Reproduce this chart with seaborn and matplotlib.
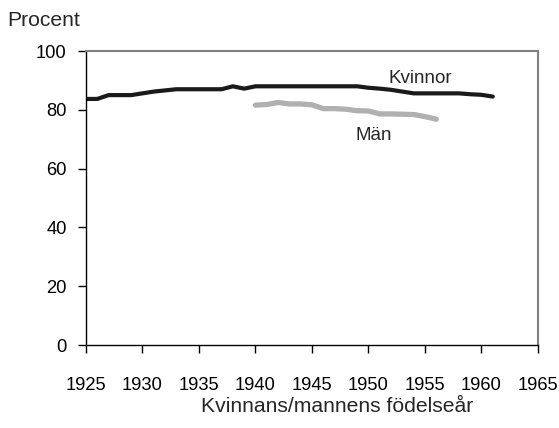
import numpy as np
import pandas as pd
import matplotlib
matplotlib.use("Agg")
import matplotlib.pyplot as plt
import seaborn as sns

sns.set_style("ticks")
plt.rcParams['font.family'] = ['Liberation Sans', 'DejaVu Sans']

# Data
kvinnor_years = list(range(1925, 1962))
kvinnor_values = [83.7, 83.7, 85.0, 85.0, 85.0, 85.6, 86.2, 86.6, 87.0, 87.0,
                  87.0, 87.0, 87.0, 88.0, 87.2, 88.0, 88.0, 88.0, 88.0, 88.0,
                  88.0, 88.0, 88.0, 88.0, 88.0, 87.5, 87.2, 86.8, 86.2, 85.6,
                  85.6, 85.6, 85.6, 85.6, 85.3, 85.1, 84.5]
man_years = list(range(1940, 1957))
man_values = [81.6, 81.8, 82.5, 82.0, 82.0, 81.7, 80.4, 80.4, 80.2, 79.7,
              79.6, 78.6, 78.6, 78.5, 78.4, 77.7, 76.8]
x_ticks = list(range(1925, 1966, 5))
y_ticks = [0, 20, 40, 60, 80, 100]

df_k = pd.DataFrame({"year": kvinnor_years, "value": kvinnor_values})
df_m = pd.DataFrame({"year": man_years, "value": man_values})

fig = plt.figure(figsize=(5.59, 4.28), dpi=100)
ax = fig.add_axes([0.1538, 0.1939, 0.8086, 0.6869])

sns.lineplot(data=df_k, x="year", y="value", ax=ax, color="#1a1a1a", linewidth=3.0)
sns.lineplot(data=df_m, x="year", y="value", ax=ax, color="#b0b0b0", linewidth=3.8)

ax.set_xlim(1925, 1965)
ax.set_ylim(0, 100)
ax.set_xticks(x_ticks)
ax.set_yticks(y_ticks)
ax.tick_params(axis='both', direction='out', length=6, width=1, colors='black',
               labelsize=13.2)
ax.tick_params(axis='x', pad=17)
ax.tick_params(axis='y', pad=8)
for side in ['left', 'bottom']:
    ax.spines[side].set_color('black')
    ax.spines[side].set_linewidth(1)
for side in ['top', 'right']:
    ax.spines[side].set_visible(True)
    ax.spines[side].set_color('#808080')
    ax.spines[side].set_linewidth(1.5)

ax.set_xlabel("")
ax.set_ylabel("")
fig.text(337 / 559, 1 - 407 / 428, "Kvinnans/mannens födelseår", fontsize=15.2,
         ha='center', va='center')
fig.text(44 / 559, 1 - 21 / 428, "Procent", fontsize=15.2, va='center', ha='center')

ax.text(1954.6, 90.8, "Kvinnor", fontsize=13.5, ha='center', va='center')
ax.text(1950.5, 71.4, "Män", fontsize=13.5, ha='center', va='center')

fig.savefig("out.png", dpi=100)
